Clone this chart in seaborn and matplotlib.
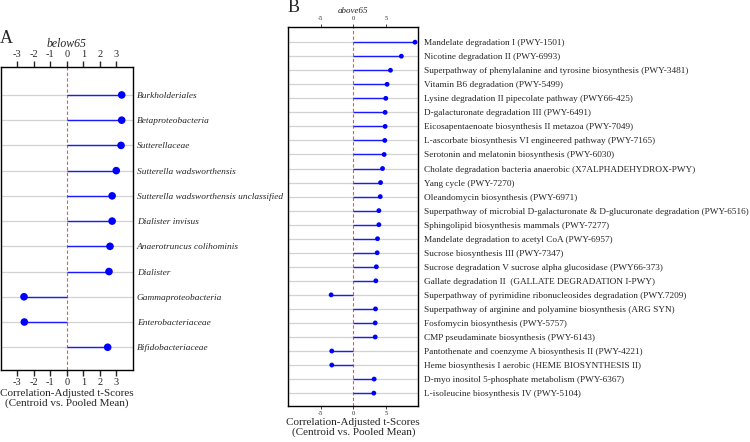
import numpy as np
import pandas as pd
import seaborn as sns
import matplotlib.pyplot as plt

sns.set_style('white')
plt.rcParams['font.family'] = ['Liberation Serif', 'DejaVu Serif']
plt.rcParams['axes.unicode_minus'] = False

below_taxa = ['Burkholderiales', 'Betaproteobacteria', 'Sutterellaceae',
              'Sutterella wadsworthensis', 'Sutterella wadsworthensis unclassified',
              'Dialister invisus', 'Anaerotruncus colihominis', 'Dialister',
              'Gammaproteobacteria', 'Enterobacteriaceae', 'Bifidobacteriaceae']
below_scores = [3.33, 3.33, 3.29, 3.0, 2.75, 2.75, 2.62, 2.56, -2.59, -2.57, 2.48]

above_pathways = [
    'Mandelate degradation I (PWY-1501)',
    'Nicotine degradation II (PWY-6993)',
    'Superpathway of phenylalanine and tyrosine biosynthesis (PWY-3481)',
    'Vitamin B6 degradation (PWY-5499)',
    'Lysine degradation II pipecolate pathway (PWY66-425)',
    'D-galacturonate degradation III (PWY-6491)',
    'Eicosapentaenoate biosynthesis II metazoa (PWY-7049)',
    'L-ascorbate biosynthesis VI engineered pathway (PWY-7165)',
    'Serotonin and melatonin biosynthesis (PWY-6030)',
    'Cholate degradation bacteria anaerobic (X7ALPHADEHYDROX-PWY)',
    'Yang cycle (PWY-7270)',
    'Oleandomycin biosynthesis (PWY-6971)',
    'Superpathway of microbial D-galacturonate & D-glucuronate degradation (PWY-6516)',
    'Sphingolipid biosynthesis mammals (PWY-7277)',
    'Mandelate degradation to acetyl CoA (PWY-6957)',
    'Sucrose biosynthesis III (PWY-7347)',
    'Sucrose degradation V sucrose alpha glucosidase (PWY66-373)',
    'Gallate degradation II  (GALLATE DEGRADATION I-PWY)',
    'Superpathway of pyrimidine ribonucleosides degradation (PWY.7209)',
    'Superpathway of arginine and polyamine biosynthesis (ARG SYN)',
    'Fosfomycin biosynthesis (PWY-5757)',
    'CMP pseudaminate biosynthesis (PWY-6143)',
    'Pantothenate and coenzyme A biosynthesis II (PWY-4221)',
    'Heme biosynthesis I aerobic (HEME BIOSYNTHESIS II)',
    'D-myo inositol 5-phosphate metabolism (PWY-6367)',
    'L-isoleucine biosynthesis IV (PWY-5104)',
]
above_scores = [9.5, 7.4, 5.72, 5.2, 5.0, 4.9, 4.9, 4.85, 4.75, 4.5, 4.2, 4.15,
                3.94, 3.94, 3.73, 3.68, 3.55, 3.47, -3.41, 3.42, 3.37, 3.37,
                -3.31, -3.31, 3.21, 3.16]

xlabel = 'Correlation-Adjusted t-Scores\n(Centroid vs. Pooled Mean)'


def draw_panel(ax, labels, scores, title, xlim, xticks, italic, s, tick_fs,
               label_fs, title_fs, pad_lab):
    df = pd.DataFrame({'label': labels, 'score': scores})
    df['row'] = np.arange(len(df))
    n = len(df)
    ax.set_axisbelow(True)
    ax.grid(axis='y', color='#d2d2d2', lw=0.9)
    ax.grid(axis='x', visible=False)
    ax.hlines(df['row'], 0, df['score'], color='#1a1aff', lw=1.0, zorder=2)
    sns.scatterplot(data=df, x='score', y='row', color='blue', s=s,
                    edgecolor='none', ax=ax, zorder=3, legend=False)
    ax.axvline(0, color='#ff4d4d', ls=(0, (3, 2)), lw=0.8, zorder=1.5)
    ax.set_xlim(*xlim)
    ax.set_ylim(n - 1 + 0.9, -1.1)
    ax.set_yticks(df['row'])
    ax.set_yticklabels(df['label'], fontsize=label_fs,
                       style='italic' if italic else 'normal')
    ax.yaxis.tick_right()
    ax.tick_params(axis='y', length=0, pad=pad_lab)
    ax.set_xticks(xticks)
    ax.tick_params(axis='x', top=True, bottom=True, labeltop=True,
                   labelbottom=True, direction='out', length=4.5, width=1,
                   labelsize=tick_fs, pad=1.5)
    ax.set_xlabel(xlabel, fontsize=8, labelpad=1.5, linespacing=1.05)
    ax.set_ylabel('')
    ax.set_title(title, style='italic', fontsize=title_fs, pad=2)
    for sp in ax.spines.values():
        sp.set_visible(True)
        sp.set_color('black')
        sp.set_linewidth(1.0)


fig = plt.figure(figsize=(7.5, 4.42), dpi=100)
ax_a = fig.add_axes([0.001, 0.163, 0.176, 0.685])
ax_b = fig.add_axes([0.3844, 0.082, 0.1733, 0.8575])

draw_panel(ax_a, below_taxa, below_scores, 'below65', (-4, 4),
           [-3, -2, -1, 0, 1, 2, 3], True, 30, 7.5, 6.75, 8.5, 3)
draw_panel(ax_b, above_pathways, above_scores, 'above65', (-10, 10),
           [-5, 0, 5], False, 12, 4.5, 6.7, 6.5, 4)
ax_b.tick_params(axis='x', length=2.5, width=0.6)

fig.text(0.009, 0.914, 'A', fontsize=13, ha='center', va='center')
fig.text(0.392, 0.982, 'B', fontsize=13, ha='center', va='center')

fig.savefig('out.png', dpi=100)
